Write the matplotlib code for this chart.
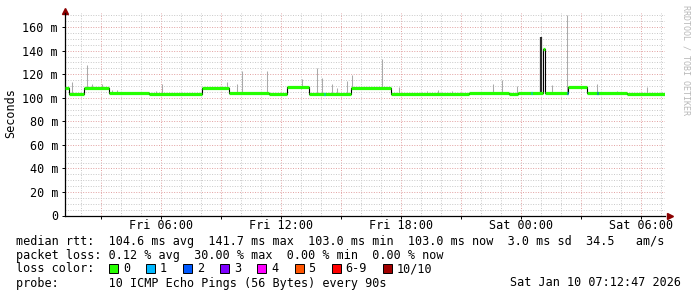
import numpy as np
import pandas as pd
import matplotlib
matplotlib.use("Agg")
import matplotlib.pyplot as plt
import matplotlib.dates as mdates
from matplotlib.ticker import MultipleLocator, FuncFormatter

plt.rcParams['font.family'] = ['DejaVu Sans Mono']

#
# data
#
t_start = "09 01:12:47"
t_end = "10 07:12:47"

# median rtt as steps: start of each segment and its value in ms
med_start = ["09 01:12:47", "09 01:24", "09 02:09", "09 03:24", "09 05:24",
             "09 08:03", "09 09:24", "09 11:24", "09 12:18", "09 13:24",
             "09 15:30", "09 17:30", "09 21:24", "09 23:24", "09 23:51",
             "10 01:06", "10 01:12", "10 02:21", "10 03:18", "10 05:18"]
med_ms = [108.3, 103.0, 108.3, 104.3, 103.0,
          108.3, 104.3, 103.0, 108.9, 103.0,
          108.3, 103.0, 104.3, 103.0, 104.3,
          141.7, 104.3, 109.2, 104.3, 103.0]

# smoke spikes: time and top of the spread (ms)
smoke_t = ["09 01:33", "09 02:18", "09 02:33", "09 03:03", "09 03:33",
           "09 03:48", "09 05:45", "09 06:03", "09 09:18", "09 09:48",
           "09 10:03", "09 10:30", "09 11:18", "09 13:03", "09 13:48",
           "09 14:03", "09 14:33", "09 14:48", "09 15:18", "09 15:33",
           "09 17:03", "09 17:54", "09 19:18", "09 19:51", "09 20:33",
           "09 22:36", "09 23:03", "09 23:48", "10 01:33", "10 02:18",
           "10 03:48", "10 04:48", "10 06:18"]
smoke_ms = [113.0, 127.7, 112.0, 112.0, 107.0,
            107.0, 106.0, 111.5, 113.0, 112.0,
            122.5, 105.0, 122.5, 115.7, 125.0,
            117.0, 112.0, 108.0, 114.0, 119.0,
            132.7, 109.0, 105.5, 107.0, 105.5,
            112.0, 115.0, 110.0, 110.6, 170.0,
            111.5, 105.5, 109.0]

# dense smoke around the big spike
dark_t = ["10 01:01"]
dark_ms = [151.5]

# samples with packet loss (number of lost pings)
loss_t = ["09 14:09", "10 00:30", "10 02:18", "10 03:48"]
loss_n = [1, 1, 2, 2]

loss_labels = ["0", "1", "2", "3", "4", "5", "6-9", "10/10"]
loss_colors = ["#26ff00", "#00b8ff", "#0059ff", "#7e00ff",
               "#ff00ff", "#ff5500", "#ff0000", "#a10000"]


def to_num(lst):
    ts = pd.to_datetime(["2026-01-" + s for s in lst], format='mixed')
    return mdates.date2num(ts.to_pydatetime())


t0, t1 = to_num([t_start, t_end])
m_t = to_num(med_start)
m_v = np.array(med_ms)
m_end = np.append(m_t[1:], t1)


def median_at(t):
    i = np.searchsorted(m_t, t, side='right') - 1
    return m_v[np.clip(i, 0, len(m_v) - 1)]


#
# figure
#
W, H = 697, 297
fig = plt.figure(figsize=(W / 100, H / 100), dpi=100)
fig.patch.set_facecolor('white')
ax = fig.add_axes([65 / W, (H - 215.5) / H, 600 / W, 202.5 / H])
ax.set_xlim(t0, t1)
ax.set_ylim(0, 172)

# grid
ax.set_axisbelow(True)
ax.xaxis.set_major_locator(mdates.HourLocator(byhour=range(0, 24, 3)))
ax.xaxis.set_minor_locator(mdates.HourLocator())
ax.yaxis.set_major_locator(MultipleLocator(20))
ax.yaxis.set_minor_locator(MultipleLocator(5))
ax.grid(which='minor', color='#c8c8c8', lw=0.7, ls=(0, (1, 1.6)))
ax.grid(which='major', color='#e2a0a0', lw=0.7, ls=(0, (1, 1.6)))


def xfmt(v, pos):
    d = mdates.num2date(v)
    return d.strftime('%a %H:%M') if d.hour % 6 == 0 else ""


ax.xaxis.set_major_formatter(FuncFormatter(xfmt))
ax.yaxis.set_major_formatter(FuncFormatter(lambda v, p: "0" if v == 0 else f"{v:.0f} m"))
ax.tick_params(which='major', length=2, width=0.7, color='black', labelsize=8.5, pad=3)
ax.tick_params(axis='x', which='major', pad=0.8)
ax.tick_params(which='minor', length=0)

for s in ['top', 'right']:
    ax.spines[s].set_visible(False)
for s in ['left', 'bottom']:
    ax.spines[s].set_color('black')
    ax.spines[s].set_linewidth(0.9)

# smoke
smk_t = to_num(smoke_t)
ax.vlines(smk_t, median_at(smk_t), smoke_ms, color='#aaaaaa', lw=0.75, zorder=2)
dk_t = to_num(dark_t)
ax.vlines(dk_t, median_at(dk_t), dark_ms, color='#2a2a2a', lw=1.6, zorder=2)

# median: thin black step line + thick loss coloured segments
ax.step(np.append(m_t, t1), np.append(m_v, m_v[-1]), where='post',
        color='black', lw=0.8, zorder=3)
ax.hlines(m_v, m_t, m_end, color=loss_colors[0], lw=2.3, zorder=4)
ls_t = to_num(loss_t)
ax.hlines(median_at(ls_t), ls_t, ls_t + 3 / 1440, color=[loss_colors[n] for n in loss_n],
          lw=2.3, zorder=5)

# axis arrows
ax.plot([0], [1.01], marker='^', ms=4, color='#8b0000', transform=ax.transAxes, clip_on=False)
ax.plot([1.008], [0], marker='>', ms=4, color='#8b0000', transform=ax.transAxes, clip_on=False)

fig.text(11 / W, 1 - 113 / H, "Seconds", rotation=90, ha='center', va='center', fontsize=8.5)
fig.text(686 / W, 1 - 5 / H, "RRDTOOL / TOBI OETIKER", rotation=270, ha='center', va='top',
         fontsize=6, color='#b8b8b8')

#
# legend
#
fs = 8.5
fig.text(16 / W, 1 - 241 / H,
         "median rtt:  104.6 ms avg  141.7 ms max  103.0 ms min  103.0 ms now  3.0 ms sd  34.5   am/s",
         va='center', fontsize=fs)
fig.text(16 / W, 1 - 255 / H,
         "packet loss: 0.12 % avg  30.00 % max  0.00 % min  0.00 % now",
         va='center', fontsize=fs)
fig.text(16 / W, 1 - 268.5 / H, "loss color:", va='center', fontsize=fs)
x = 109
for lab, col in zip(loss_labels, loss_colors):
    fig.patches.append(plt.Rectangle((x / W, 1 - 273 / H), 9 / W, 9 / H, transform=fig.transFigure,
                                     facecolor=col, edgecolor='black', lw=0.7))
    fig.text((x + 14) / W, 1 - 268.5 / H, lab, va='center', fontsize=fs)
    x += 30 + 7.1 * len(lab)
fig.text(16 / W, 1 - 283 / H, "probe:       10 ICMP Echo Pings (56 Bytes) every 90s",
         va='center', fontsize=fs)
fig.text(681 / W, 1 - 283 / H, "Sat Jan 10 07:12:47 2026", ha='right', va='center', fontsize=fs)

fig.savefig("out.png", dpi=100)
